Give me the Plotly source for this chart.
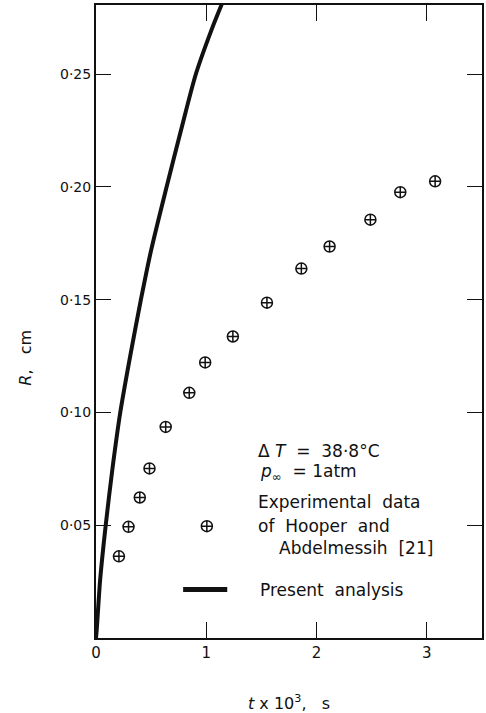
import plotly.graph_objects as go

# Experimental data (Hooper and Abdelmessih [21]) : t x 10^3 (s), R (cm)
exp_t = [0.208, 0.295, 0.397, 0.485, 0.632, 0.846, 0.990, 1.241, 1.550, 1.862, 2.118, 2.488, 2.759, 3.075]
exp_R = [0.0362, 0.0493, 0.0623, 0.0752, 0.0936, 0.1087, 0.1222, 0.1337, 0.1487, 0.1638, 0.1736, 0.1855, 0.1977, 0.2025]

# Present analysis curve
ana_t = [0.0, 0.007, 0.038, 0.088, 0.149, 0.22, 0.31, 0.407, 0.50, 0.64, 0.77, 0.905, 1.05, 1.14]
ana_R = [0.0, 0.004, 0.026, 0.050, 0.075, 0.100, 0.125, 0.150, 0.172, 0.200, 0.225, 0.250, 0.270, 0.281]

x_ticks = [0, 1, 2, 3]
x_ticklabels = ["0", "1", "2", "3"]
y_ticks = [0.05, 0.10, 0.15, 0.20, 0.25]
y_ticklabels = ["0·05", "0·10", "0·15", "0·20", "0·25"]

FONT = "DejaVu Sans"
BLACK = "#111111"

fig = go.Figure()
fig.add_trace(go.Scatter(x=ana_t, y=ana_R, mode="lines",
                         line=dict(color=BLACK, width=4, shape="spline", smoothing=0.8),
                         showlegend=False))
fig.add_trace(go.Scatter(x=exp_t, y=exp_R, mode="markers",
                         marker=dict(symbol="circle-cross-open", size=11,
                                     color=BLACK, line=dict(width=1.5, color=BLACK)),
                         showlegend=False))

# legend keys
fig.add_trace(go.Scatter(x=[1.005], y=[0.0496], mode="markers",
                         marker=dict(symbol="circle-cross-open", size=11,
                                     color=BLACK, line=dict(width=1.5, color=BLACK)),
                         showlegend=False))
fig.add_trace(go.Scatter(x=[0.79, 1.19], y=[0.0215, 0.0215], mode="lines",
                         line=dict(color=BLACK, width=5), showlegend=False))

ann_font = dict(family=FONT, size=17, color=BLACK)
texts = [
    (1.455, 0.0831, "Δ <i>T</i>  =  38·8°C"),
    (1.465, 0.0733, "<i>p</i><sub>∞</sub>  = 1atm"),
    (1.455, 0.0605, "Experimental  data"),
    (1.455, 0.0498, "of  Hooper  and"),
    (1.644, 0.0397, "Abdelmessih  [21]"),
    (1.473, 0.0215, "Present  analysis"),
]
for x, y, t in texts:
    fig.add_annotation(x=x, y=y, xref="x", yref="y", text=t, showarrow=False,
                       xanchor="left", yanchor="middle", font=ann_font)

# axis titles (paper coords relative to plot area: x 95.5..484, y 5..638.5 px)
fig.add_annotation(x=(290 - 95.5) / 388.5, y=(638.5 - 703) / 633.5,
                   xref="paper", yref="paper",
                   text="<i>t</i> x 10<sup>3</sup>,   s", showarrow=False,
                   xanchor="center", yanchor="middle",
                   font=dict(family=FONT, size=16, color=BLACK))
fig.add_annotation(x=(25 - 95.5) / 388.5, y=(638.5 - 358) / 633.5,
                   xref="paper", yref="paper",
                   text="<i>R</i>,   cm", showarrow=False, textangle=-90,
                   xanchor="center", yanchor="middle",
                   font=dict(family=FONT, size=16, color=BLACK))

fig.update_xaxes(range=[0, 3.5], tickvals=x_ticks, ticktext=x_ticklabels,
                 ticks="inside", ticklen=16, tickwidth=1.2, tickcolor=BLACK,
                 showline=True, linecolor=BLACK, linewidth=2, mirror="ticks",
                 showgrid=False, zeroline=False,
                 tickfont=dict(family=FONT, size=15, color=BLACK))
fig.update_yaxes(range=[0, 0.2807], tickvals=y_ticks, ticktext=y_ticklabels,
                 ticks="inside", ticklen=15, tickwidth=1.2, tickcolor=BLACK,
                 showline=True, linecolor=BLACK, linewidth=2, mirror="ticks",
                 showgrid=False, zeroline=False,
                 tickfont=dict(family=FONT, size=14, color=BLACK))

fig.update_layout(width=486, height=713,
                  margin=dict(l=95.5, r=2, t=5, b=74.5),
                  plot_bgcolor="white", paper_bgcolor="white",
                  showlegend=False)

fig.write_html("out.html")
